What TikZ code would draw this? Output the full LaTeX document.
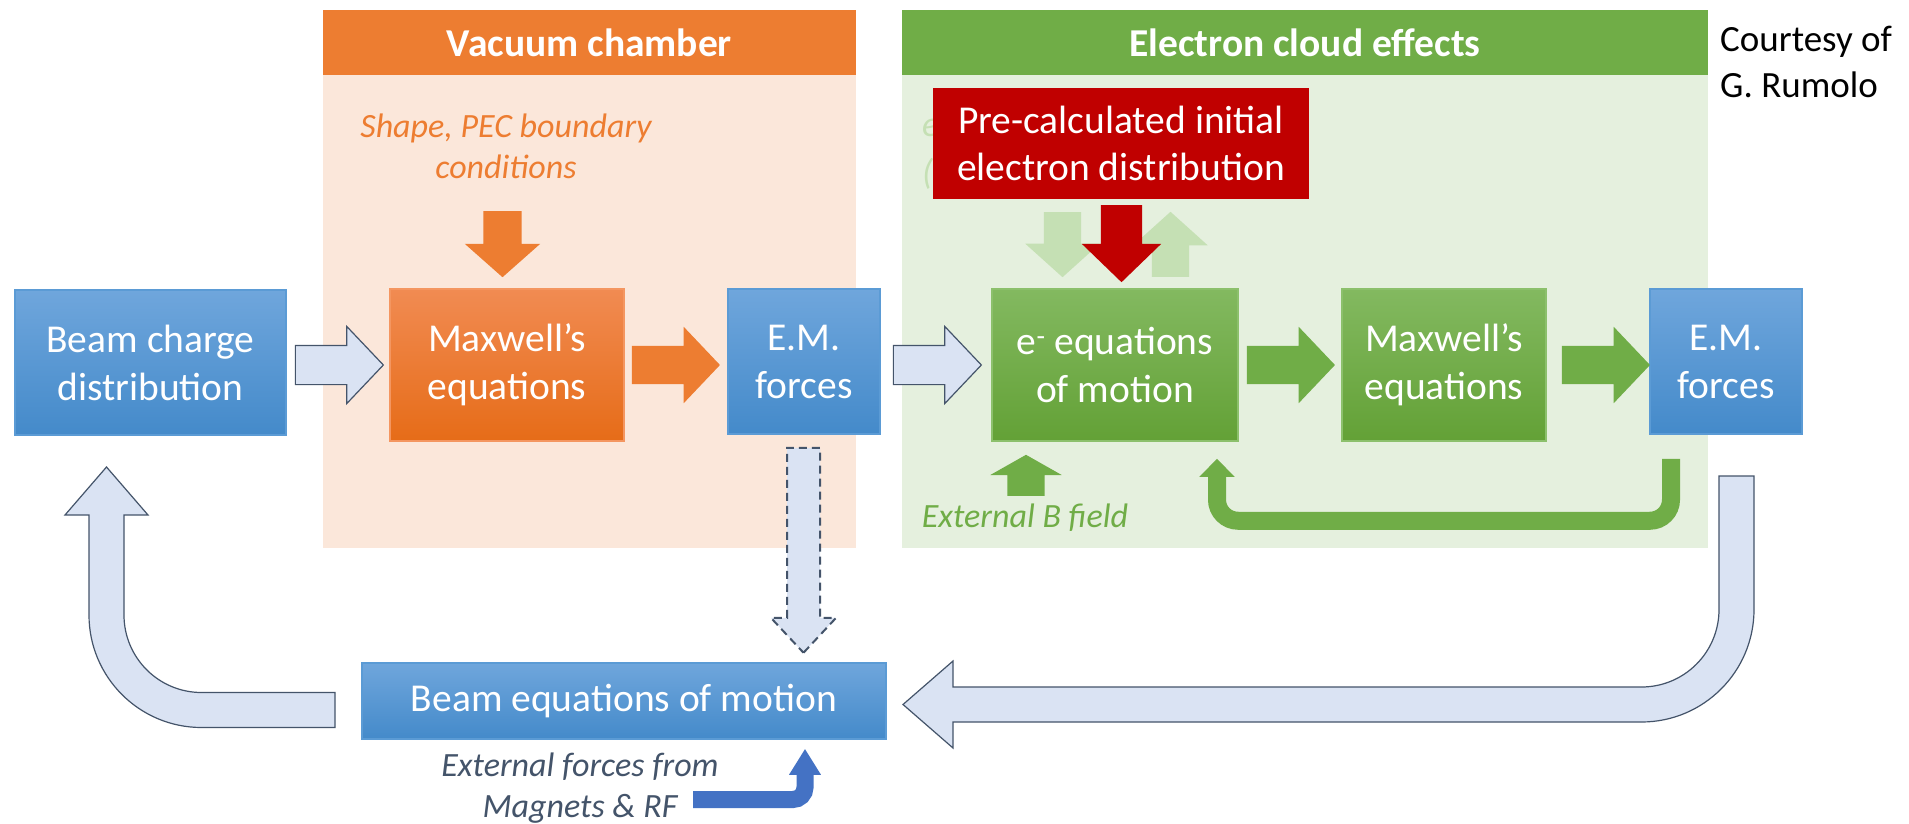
\documentclass[tikz,border=0pt]{standalone}
\usepackage{fontspec}
\setmainfont{Carlito}
\usetikzlibrary{shapes.arrows,arrows.meta,calc}

\definecolor{vacOrange}{RGB}{237,125,49}
\definecolor{vacBack}{RGB}{251,231,218}
\definecolor{ecGreen}{RGB}{112,173,71}
\definecolor{ecBack}{RGB}{229,240,222}
\definecolor{blueTop}{RGB}{111,166,220}
\definecolor{blueBot}{RGB}{68,138,202}
\definecolor{blueLine}{RGB}{91,155,213}
\definecolor{orTop}{RGB}{241,139,82}
\definecolor{orBot}{RGB}{230,108,24}
\definecolor{orLine}{RGB}{244,150,96}
\definecolor{grTop}{RGB}{131,185,96}
\definecolor{grBot}{RGB}{99,161,54}
\definecolor{grLine}{RGB}{140,192,108}
\definecolor{hollowFill}{RGB}{218,227,243}
\definecolor{hollowLine}{RGB}{68,84,106}
\definecolor{fadeGreen}{RGB}{197,224,180}
\definecolor{preRed}{RGB}{192,0,0}
\definecolor{magBlue}{RGB}{68,114,196}

\newcommand{\boxfont}{\fontsize{39.5}{48}\selectfont}
\newcommand{\notefont}{\fontsize{34}{41}\selectfont\itshape}

\tikzset{
  box/.style={rectangle, inner sep=0pt, align=center, text=white, font=\boxfont, line width=1.5pt},
  bluebox/.style={box, top color=blueTop, bottom color=blueBot, draw=blueLine},
  orangebox/.style={box, top color=orTop, bottom color=orBot, draw=orLine},
  greenbox/.style={box, top color=grTop, bottom color=grBot, draw=grLine},
  header/.style={rectangle, inner sep=0pt, text=white, font=\bfseries\boxfont, minimum height=65pt},
  barrow/.style={single arrow, anchor=tail, inner xsep=0pt, inner ysep=19pt, draw=none, minimum height=88pt, minimum width=0pt, single arrow head extend=19pt, single arrow tip angle=93},
  hollow/.style={fill=hollowFill, draw=hollowLine, line width=1.2pt},
}

\begin{document}
\begin{tikzpicture}[x=1pt, y=-1pt]
\useasboundingbox (0,0) rectangle (1909,824);
\fill[white] (0,0) rectangle (1909,824);

% shaded areas
\fill[vacBack] (323,75) rectangle (856,548);
\fill[ecBack] (902,75) rectangle (1708,548);
\node[header, fill=vacOrange, minimum width=533pt] (vachead) at (589.5,42.5) {Vacuum chamber};
\node[header, fill=ecGreen, minimum width=806pt] (echead) at (1305,42.5) {Electron cloud effects};

\node[anchor=west, align=left, inner sep=0pt, font=\fontsize{37}{46}\selectfont] (credit) at (1720,62) {Courtesy of\\G. Rumolo};

% notes
\node[align=center, inner sep=0pt, text=vacOrange, font=\notefont] (pec) at (506,146) {Shape, PEC boundary\\conditions};
\node[anchor=base, inner sep=0pt, text=ecGreen, font=\notefont] (bfield) at (1025,527) {External B field};
\node[anchor=base west, inner sep=0pt, text=fadeGreen, font=\fontsize{36}{43}\selectfont\itshape] (hid1) at (922,137) {e};
\node[anchor=base west, inner sep=0pt, text=fadeGreen, font=\fontsize{36}{43}\selectfont\itshape] (hid2) at (922,185) {(};
\node[align=center, inner sep=0pt, text=hollowLine, font=\notefont] (extf) at (580,788) {External forces from\\Magnets \& RF};

% pre-calculated distribution
\node[barrow, fill=fadeGreen, rotate=-90, minimum height=65pt, inner ysep=18.5pt, single arrow head extend=18.5pt, single arrow tip angle=96] (fdown) at (1062.5,212) {};
\node[barrow, fill=fadeGreen, rotate=90, minimum height=65pt, inner ysep=18.5pt, single arrow head extend=18.5pt, single arrow tip angle=96] (fup) at (1170.5,277) {};
\node[box, fill=preRed, minimum width=376pt, minimum height=111pt, line width=0pt, font=\fontsize{39.5}{47}\selectfont] (pre) at (1121,143.5) {Pre-calculated initial\\electron distribution};
\node[barrow, fill=preRed, rotate=-90, minimum height=77pt, inner ysep=20.5pt, single arrow head extend=19pt, single arrow tip angle=92] (prearr) at ([xshift=0.5pt,yshift=-6pt]pre.south) {};

% boxes
\node[bluebox, minimum width=271pt, minimum height=145pt] (beam) at (150.5,362.5) {Beam charge\\distribution};
\node[orangebox, minimum width=234pt, minimum height=152pt] (maxv) at (507,365) {Maxwell’s\\equations};
\node[bluebox, minimum width=152pt, minimum height=145pt] (emv) at (804,361.5) {E.M.\\forces};
\node[greenbox, minimum width=246pt, minimum height=152pt] (eeq) at (1115,365) {e\textsuperscript{-} equations\\of motion};
\node[greenbox, minimum width=204pt, minimum height=152pt] (maxe) at (1444,365) {Maxwell’s\\equations};
\node[bluebox, minimum width=152pt, minimum height=145pt] (eme) at (1726,361.5) {E.M.\\forces};
\node[bluebox, minimum width=524pt, minimum height=76pt] (beameq) at (624,701) {Beam equations of motion};

% arrows along the chain
\node[barrow, hollow] (a1) at ([xshift=8pt]beam.east |- 0,365) {};
\node[barrow, fill=vacOrange] (a2) at ([xshift=7pt]maxv.east) {};
\node[barrow, hollow] (a3) at ([xshift=12pt]emv.east |- 0,365) {};
\node[barrow, fill=ecGreen] (a4) at ([xshift=8pt]eeq.east) {};
\node[barrow, fill=ecGreen] (a5) at ([xshift=15pt]maxe.east) {};
\node[barrow, fill=vacOrange, rotate=-90, minimum height=66pt, single arrow head extend=18.5pt, single arrow tip angle=97] (pecarr) at (502.5,211) {};
\node[barrow, fill=ecGreen, rotate=90, minimum height=41pt, inner ysep=18.5pt, single arrow head extend=17pt, single arrow tip angle=121] (barr) at (1026,496) {};
\node[barrow, hollow, dashed, dash pattern=on 8pt off 5pt, line width=2pt, rotate=-90, minimum height=205pt, inner ysep=15.5pt, single arrow head extend=16pt, single arrow tip angle=86] (darr) at ([xshift=-0.5pt,yshift=-12pt]emv.south) {};

% feedback loops
\draw[ecGreen, line width=18pt, rounded corners=21pt, -{Triangle[width=34pt,length=18pt]}]
  ([xshift=-55pt,yshift=-24pt]eme.south) -- ++(0,62) -| ([xshift=102pt,yshift=-17pt]eeq.south);
\coordinate (magstart) at (693,799.5);
\draw[magBlue, line width=17pt, rounded corners=12pt, -{Triangle[width=30pt,length=26pt]}]
  (magstart) -| ([xshift=181pt,yshift=-9pt]beameq.south);

% big return arrows
\draw[hollow] (1719,476) -- (1719,609.5) .. controls (1719,652.3) and (1684.3,687) .. (1641.5,687)
  -- (953,687) -- (953,661) -- (903,704.5) -- (953,748) -- (953,722) -- (1641.5,722)
  .. controls (1703.6,722) and (1754,671.6) .. (1754,609.5) -- (1754,476) -- cycle;
\draw[hollow] (335,692.5) -- (201.5,692.5) .. controls (158.7,692.5) and (124,657.8) .. (124,615)
  -- (124,515) -- (148,515) -- (106.5,467) -- (65,515) -- (89,515) -- (89,615)
  .. controls (89,677.1) and (139.4,727.5) .. (201.5,727.5) -- (335,727.5) -- cycle;
\end{tikzpicture}
\end{document}
